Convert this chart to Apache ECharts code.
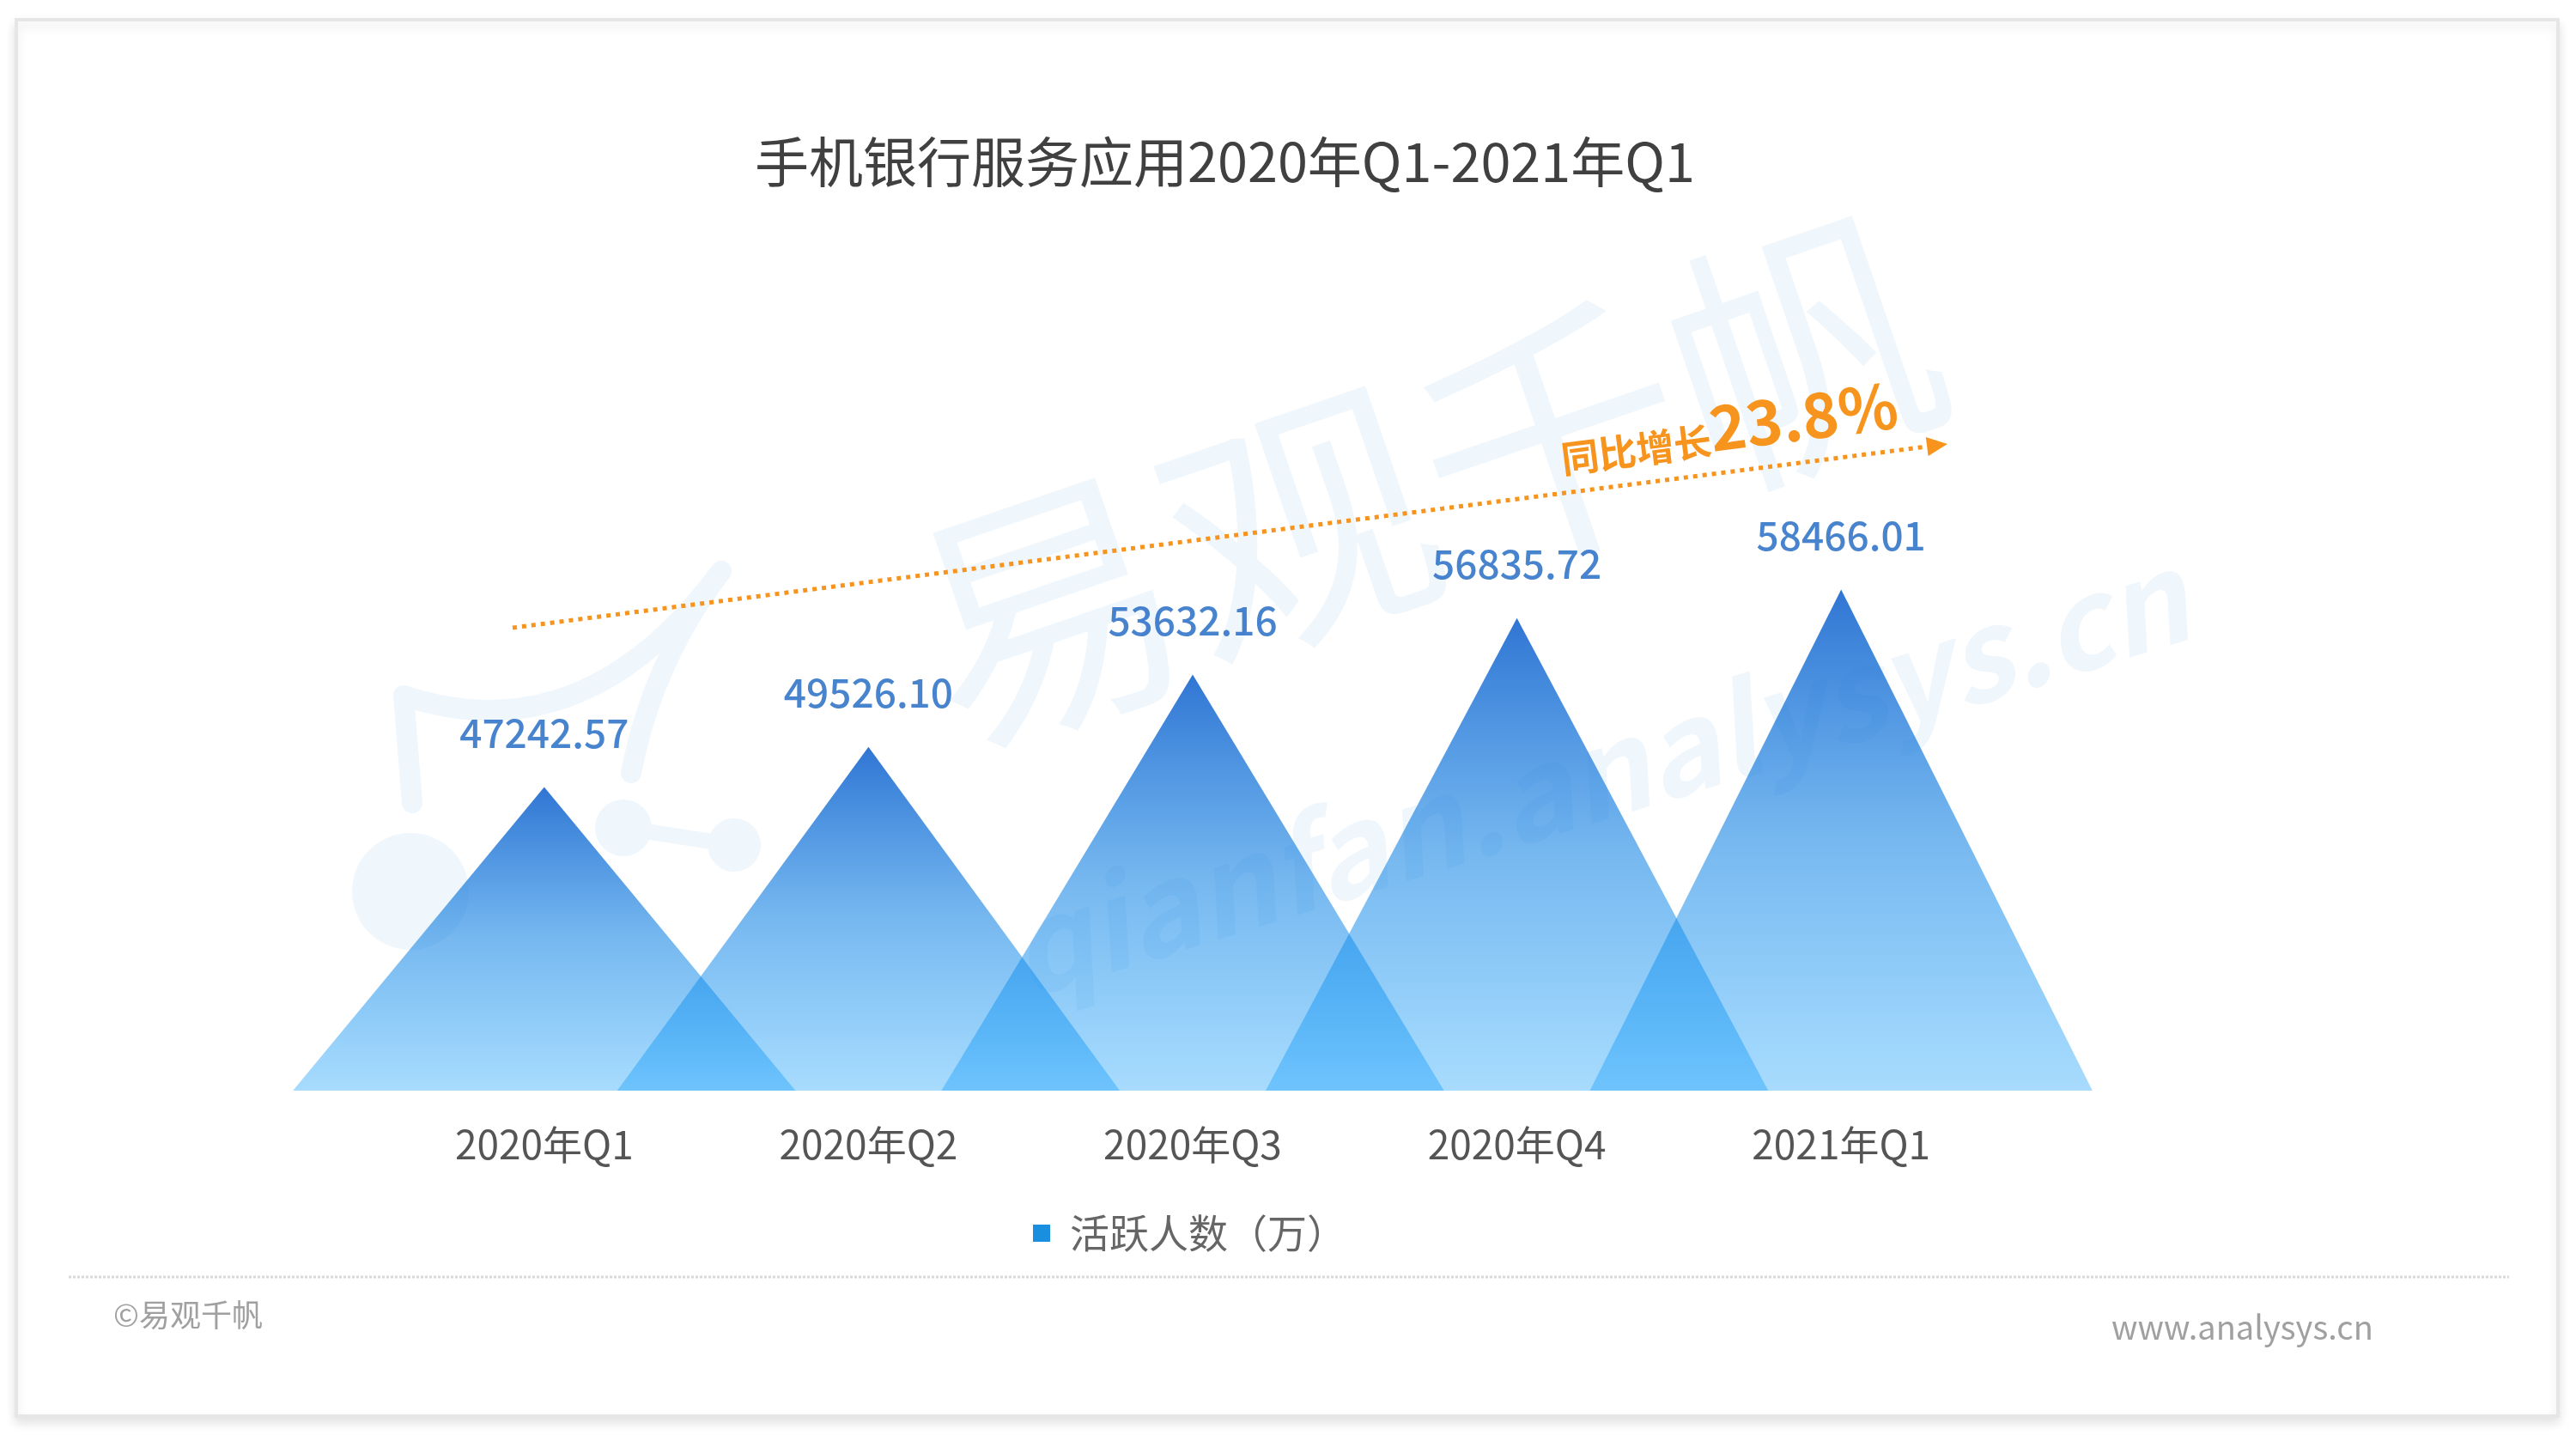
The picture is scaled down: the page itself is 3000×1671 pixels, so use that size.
<!DOCTYPE html>
<html>
<head>
<meta charset="utf-8">
<script src="https://cdn.jsdelivr.net/npm/echarts@6/dist/echarts.min.js"></script>
<style>
html,body{margin:0;padding:0;background:#fff;}
#main{width:3000px;height:1671px;}
</style>
</head>
<body>
<div id="main"></div>
<script>
// ---- data ----
const categories = ['2020年Q1', '2020年Q2', '2020年Q3', '2020年Q4', '2021年Q1'];
const activeUsers = [47242.57, 49526.10, 53632.16, 56835.72, 58466.01];
const seriesName = '活跃人数（万）';
const titleText = '手机银行服务应用2020年Q1-2021年Q1';
const growthLabel = '同比增长';
const growthValue = '23.8%';

const FONT = '"Noto Sans CJK SC", "Noto Sans", sans-serif';
const Y_MIN = 30000, Y_MAX = 70000;
const WM = '#eff6fc';

const chart = echarts.init(document.getElementById('main'), null, {renderer: 'canvas'});

const pairs = categories.map((c, i) => [c, activeUsers[i]]);

const option = {
  backgroundColor: '#ffffff',
  animation: false,
  textStyle: {fontFamily: FONT},
  title: {
    text: titleText,
    left: 874,
    top: 152,
    textStyle: {fontSize: 63, fontWeight: 'normal', color: '#404040', fontFamily: FONT}
  },
  legend: {
    data: [seriesName],
    left: 1198,
    top: 1408,
    icon: 'rect',
    itemWidth: 20,
    itemHeight: 20,
    textStyle: {fontSize: 46, color: '#666', fontFamily: FONT, padding: [0, 0, 0, 18]}
  },
  grid: {left: 445, right: 667, top: 450, bottom: 401, containLabel: false},
  xAxis: {
    type: 'category',
    data: categories,
    axisLine: {show: false},
    axisTick: {show: false},
    axisLabel: {fontSize: 46, color: '#555', margin: 40, fontFamily: FONT}
  },
  yAxis: {
    type: 'value',
    min: Y_MIN,
    max: Y_MAX,
    show: false,
    splitLine: {show: false}
  },
  series: [
    {
      name: seriesName,
      type: 'custom',
      itemStyle: {color: '#1a8fe0'},
      data: pairs,
      encode: {x: 0, y: 1},
      z: 2,
      renderItem: function (params, api) {
        const idx = api.value(0);
        const top = api.coord([idx, api.value(1)]);
        const base = api.coord([idx, Y_MIN]);
        const w = api.size([1, 0])[0] * 1.55;
        return {
          type: 'polygon',
          shape: {points: [[top[0] - w / 2, base[1]], [top[0], top[1]], [top[0] + w / 2, base[1]]]},
          style: {
            fill: new echarts.graphic.LinearGradient(0, 0, 0, 1, [
              {offset: 0, color: 'rgba(26,102,206,0.9)'},
              {offset: 0.5, color: 'rgba(20,132,228,0.58)'},
              {offset: 1, color: 'rgba(0,150,250,0.34)'}
            ])
          }
        };
      }
    },
    {
      name: 'labels',
      type: 'scatter',
      data: pairs,
      symbolSize: 0,
      silent: true,
      z: 5,
      label: {
        show: true,
        position: 'top',
        distance: 40,
        fontSize: 46,
        fontWeight: 500,
        color: '#1a64c2',
        fontFamily: FONT,
        formatter: p => p.value[1].toFixed(2)
      }
    }
  ],
  graphic: [
    // outer frame
    {
      type: 'rect', z: -10,
      shape: {x: 19, y: 23, width: 2960, height: 1626},
      style: {fill: '#fff', stroke: '#e6e6e6', lineWidth: 4, shadowBlur: 12, shadowColor: 'rgba(0,0,0,0.10)', shadowOffsetY: 6}
    },
    // watermark logo
    {type: 'circle', z: -5, shape: {cx: 478, cy: 1038, r: 68}, style: {fill: WM}},
    {type: 'circle', z: -5, shape: {cx: 726, cy: 964, r: 33}, style: {fill: WM}},
    {type: 'circle', z: -5, shape: {cx: 855, cy: 984, r: 31}, style: {fill: WM}},
    {type: 'line', z: -5, shape: {x1: 726, y1: 964, x2: 855, y2: 984}, style: {stroke: WM, lineWidth: 18}},
    {type: 'line', z: -5, shape: {x1: 480, y1: 935, x2: 470, y2: 810}, style: {stroke: WM, lineWidth: 24, lineCap: 'round'}},
    {type: 'bezierCurve', z: -5, shape: {x1: 470, y1: 810, cpx1: 680, cpy1: 880, x2: 840, y2: 665}, style: {fill: null, stroke: WM, lineWidth: 24, lineCap: 'round'}},
    {type: 'bezierCurve', z: -5, shape: {x1: 735, y1: 900, cpx1: 760, cpy1: 770, x2: 840, y2: 665}, style: {fill: null, stroke: WM, lineWidth: 24, lineCap: 'round'}},
    // watermark text
    {
      type: 'text', z: -5, x: 1660, y: 560, rotation: 0.33,
      style: {text: '易观千帆', fontSize: 310, fontFamily: FONT, fill: WM, align: 'center', verticalAlign: 'middle'}
    },
    {
      type: 'text', z: -5, x: 1860, y: 900, rotation: 0.30,
      style: {text: 'qianfan.analysys.cn', fontSize: 145, fontWeight: 'bold', fontStyle: 'italic', fontFamily: FONT, fill: WM, align: 'center', verticalAlign: 'middle'}
    },
    // growth arrow
    {
      type: 'line', z: 10,
      shape: {x1: 597, y1: 731, x2: 2244, y2: 520},
      style: {stroke: '#f7941d', lineWidth: 5, lineDash: [5, 6]}
    },
    {
      type: 'polygon', z: 10,
      shape: {points: [[2268, 517], [2245.6, 530.9], [2242.8, 509.1]]},
      style: {fill: '#f7941d'}
    },
    {
      type: 'text', z: 10, x: 2013, y: 496, rotation: 0.127,
      style: {
        text: '{a|' + growthLabel + '}{b|' + growthValue + '}',
        align: 'center', verticalAlign: 'middle',
        rich: {
          a: {fontSize: 44, fontWeight: 'bold', fill: '#f7941d', fontFamily: FONT, verticalAlign: 'bottom'},
          b: {fontSize: 72, fontWeight: 'bold', fill: '#f7941d', fontFamily: FONT, verticalAlign: 'bottom'}
        }
      }
    },
    // separator
    {
      type: 'line', z: 1,
      shape: {x1: 80, y1: 1487, x2: 2922, y2: 1487},
      style: {stroke: '#d8d8d8', lineWidth: 3, lineDash: [3, 2]}
    },
    // footer
    {
      type: 'text', z: 1, x: 132, y: 1531,
      style: {text: '©易观千帆', fontSize: 36, fontFamily: FONT, fill: '#a0a0a0', verticalAlign: 'middle'}
    },
    {
      type: 'text', z: 1, x: 2459, y: 1546,
      style: {text: 'www.analysys.cn', fontSize: 38, fontFamily: FONT, fill: '#a0a0a0', verticalAlign: 'middle'}
    }
  ]
};

chart.setOption(option);
</script>
</body>
</html>
